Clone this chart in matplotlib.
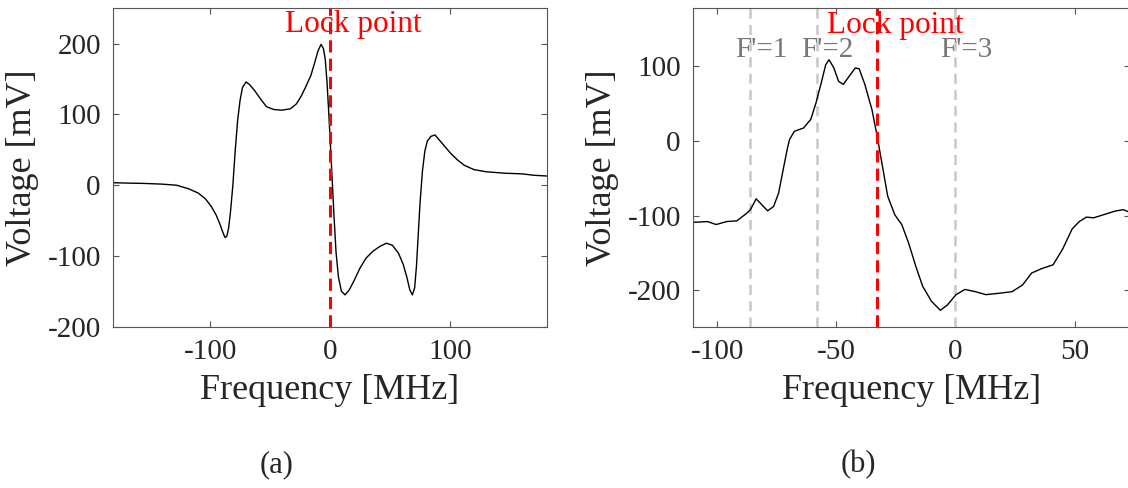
import numpy as np
import matplotlib
matplotlib.use("Agg")
from matplotlib import pyplot as plt

# (a) error signal vs detuning
freq_a = [-180.6, -170, -155, -140, -128, -118, -110, -104, -99, -95, -92, -89.5,
          -87.5, -86, -84.5, -83, -81, -79, -77, -75, -73, -70, -67, -63, -58,
          -53, -47, -40, -33, -28, -24, -20, -16, -13, -10, -7.5, -5.5, -4, -2.5,
          -1, 0.5, 2, 3.5, 5, 7, 9.5, 12.5, 16, 20, 25, 30, 36, 42, 47, 52, 57,
          61, 64, 66.5, 68.6, 70.5, 72, 73.5, 75, 77, 79, 81, 84, 87.5, 91, 95,
          100, 106, 112, 120, 130, 145, 160, 170, 180.6]
volt_a = [3.5, 3, 2.5, 1.5, 0, -5, -11, -19, -30, -42, -54, -66,
          -74, -72, -60, -38, 0, 50, 92, 120, 138, 146, 142, 134, 122,
          111, 107, 106, 108, 115, 126, 140, 155, 172, 190, 199, 193, 178, 145,
          100, 50, 0, -50, -95, -130, -150, -155, -148, -135, -117, -103, -93, -86, -82, -85, -96,
          -112, -130, -148, -155, -145, -115, -70, -25, 20, 48, 62, 69, 71, 64, 56,
          46, 36, 28, 22, 19, 17, 16, 14, 13]

# (b) saturated absorption signal
freq_b = [-110, -104, -100.4, -96, -91.7, -87.5, -86, -83.6, -81.2, -78.8, -76.3,
          -74.2, -72, -70.5, -69.6, -67.6, -63.7, -60.7, -58.5, -56.3, -54.4, -53,
          -51, -49, -47, -45, -42, -40.4, -38, -35, -32.8, -30.6, -28.4, -25.4,
          -22.5, -19.6, -16.6, -13.7, -10, -6.3, -3.4, 0.3, 4, 8.4, 12.8, 18.7,
          23.8, 28.2, 32, 36.3, 41, 45, 49, 52, 55, 58, 63, 67, 70.5, 72.7]
volt_b = [-109, -108, -112, -108, -107, -96.7, -92, -77.5, -85.5, -93.6, -87.8,
          -70, -34, -10, 2, 13, 17.5, 29, 51, 78, 102.5, 109,
          98, 80, 76, 85, 98, 97, 76, 42, 6, -34, -74, -99,
          -112, -137, -168, -195, -215, -227, -220, -206, -199, -202, -206, -204,
          -202, -193, -177, -171, -166, -145, -118, -108, -102, -103, -98, -94, -92, -95]

lock_a = 0
lock_b = -33
hf_pos = [-86, -58, 0]
hf_names = ["F'=1", "F'=2", "F'=3"]
hf_label_x = [-81.5, -53.6, 4.5]

plt.rcParams['font.family'] = ['Liberation Serif', 'DejaVu Serif']
plt.rcParams['axes.unicode_minus'] = False
plt.rcParams['axes.edgecolor'] = '#555555'
plt.rcParams['xtick.color'] = '#555555'
plt.rcParams['ytick.color'] = '#555555'
plt.rcParams['xtick.labelcolor'] = '#262626'
plt.rcParams['ytick.labelcolor'] = '#262626'

fig = plt.figure(figsize=(11.28, 4.88), dpi=100)
ax1 = fig.add_axes([0.1005, 0.3305, 0.3842, 0.6525])
ax2 = fig.add_axes([0.6146, 0.3305, 0.3872, 0.6525])

for ax in (ax1, ax2):
    ax.tick_params(direction='in', top=True, right=True, length=4, width=0.8,
                   labelsize=21, pad=9)
    for s in ax.spines.values():
        s.set_linewidth(0.8)

ax1.plot(freq_a, volt_a, color='black', lw=1)
ax1.axvline(lock_a, color='#ff0000', ls='--', lw=2.2, dashes=(4, 2))
ax1.text(19, 227, "Lock point", color='#ff0000', fontsize=22.5, ha='center', va='center')
ax1.set_xlim(-180.6, 180.6)
ax1.set_ylim(-200, 250)
ax1.set_xticks([-100, 0, 100])
ax1.set_yticks([-200, -100, 0, 100, 200])
ax1.set_xlabel("Frequency [MHz]", fontsize=26, color='#262626', labelpad=6)
ax1.set_ylabel("Voltage [mV]", fontsize=26, color='#262626', labelpad=6)

for xv in hf_pos:
    ax2.axvline(xv, color='#c8c8c8', ls='--', lw=1.8, dashes=(4, 2.5))
for xv, name in zip(hf_label_x, hf_names):
    ax2.text(xv, 122, name, color='#777777', fontsize=21, ha='center', va='center')
ax2.plot(freq_b, volt_b, color='black', lw=1)
ax2.axvline(lock_b, color='#ff0000', ls='--', lw=2.2, dashes=(4, 2))
ax2.text(-25.2, 155, "Lock point", color='#ff0000', fontsize=22.5, ha='center', va='center')
ax2.set_xlim(-110, 73.3)
ax2.set_ylim(-249, 178)
ax2.set_xticks([-100, -50, 0, 50])
ax2.set_yticks([-200, -100, 0, 100])
ax2.set_xlabel("Frequency [MHz]", fontsize=26, color='#262626', labelpad=6)
ax2.set_ylabel("Voltage [mV]", fontsize=26, color='#262626', labelpad=6)

fig.text(277 / 1128, 1 - 465 / 488, "(a)", fontsize=22, color='#262626', ha='center', va='center')
fig.text(858 / 1128, 1 - 465 / 488, "(b)", fontsize=22, color='#262626', ha='center', va='center')

fig.savefig("out.png", dpi=100)
